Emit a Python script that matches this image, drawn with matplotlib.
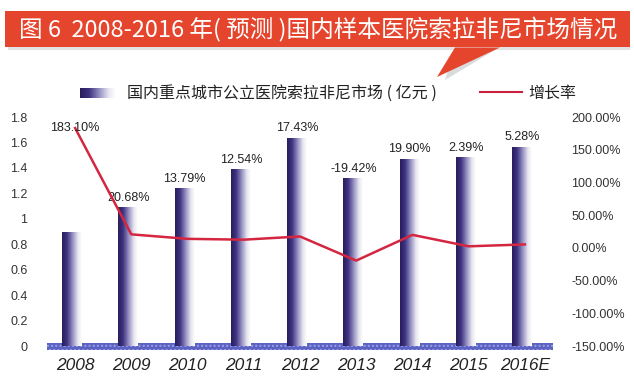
import matplotlib
matplotlib.use("Agg")
import matplotlib.pyplot as plt
import numpy as np
from matplotlib.patches import Rectangle, Polygon
from matplotlib.lines import Line2D
from matplotlib.colors import LinearSegmentedColormap

plt.rcParams['font.family'] = ['Liberation Sans', 'Noto Sans CJK SC', 'DejaVu Sans']

years = ['2008', '2009', '2010', '2011', '2012', '2013', '2014', '2015', '2016E']
market = [0.89, 1.087, 1.236, 1.386, 1.63, 1.315, 1.465, 1.48, 1.56]
growth = [183.10, 20.68, 13.79, 12.54, 17.43, -19.42, 19.90, 2.39, 5.28]
growth_labels = ['183.10%', '20.68%', '13.79%', '12.54%', '17.43%', '-19.42%', '19.90%', '2.39%', '5.28%']
left_ticks = [0, 0.2, 0.4, 0.6, 0.8, 1, 1.2, 1.4, 1.6, 1.8]
left_tick_labels = ['0', '0.2', '0.4', '0.6', '0.8', '1', '1.2', '1.4', '1.6', '1.8']
right_ticks = [-150, -100, -50, 0, 50, 100, 150, 200]
right_tick_labels = ['-150.00%', '-100.00%', '-50.00%', '0.00%', '50.00%', '100.00%', '150.00%', '200.00%']
title = '图 6  2008-2016 年( 预测 )国内样本医院索拉非尼市场情况'
legend_bar = '国内重点城市公立医院索拉非尼市场 ( 亿元 )'
legend_line = '增长率'

W, H = 634, 385
fig = plt.figure(figsize=(W / 100, H / 100), dpi=100)
fig.patch.set_facecolor('white')

bar_cmap = LinearSegmentedColormap.from_list(
    'g', [(0.0, '#2a1d5c'), (0.25, '#3e3380'), (0.5, '#8a84bb'), (0.8, '#e6e5f0'), (1.0, '#ffffff')])
grad = np.linspace(0, 1, 64).reshape(1, -1)

# axes
ax = fig.add_axes([47 / W, 32.6 / H, (553 - 47) / W, (268 - 32.6) / H])
for s in ax.spines.values():
    s.set_visible(False)
ax.set_xticks(range(len(years)))
ax.set_xticklabels(years, fontsize=12.5, style='italic', color='#222222')
ax.tick_params(axis='x', length=0, pad=4)
ax.set_yticks(left_ticks)
ax.set_yticklabels(left_tick_labels, fontsize=9, color='#333333')
ax.tick_params(axis='y', length=0, pad=14)

# baseline band
ax.axhspan(-0.03, 0.02, xmin=0, xmax=1, facecolor='#5b62c2', edgecolor='#9aa0e6',
           hatch='....', linewidth=0, zorder=2)

bw = 0.34
for i, v in enumerate(market):
    x0 = i - 0.06 - bw / 2
    ax.imshow(grad, cmap=bar_cmap, aspect='auto', extent=(x0, x0 + bw, 0, v),
              interpolation='bilinear', zorder=3)
ax.set_xlim(-0.5, 8.5)
ax.set_ylim(-0.05, 1.8)

ax2 = ax.twinx()
ax2.set_ylim(-150 - 0.05 * 350 / 1.8, 200)
for s in ax2.spines.values():
    s.set_visible(False)
ax2.set_yticks(right_ticks)
ax2.set_yticklabels(right_tick_labels, fontsize=9, color='#333333')
ax2.tick_params(axis='y', length=0, pad=13)
ax2.plot(range(len(years)), growth, color='#d42640', lw=1.8, zorder=5)

# data labels
for i, (v, g, lab) in enumerate(zip(market, growth, growth_labels)):
    bar_px = ax.transData.transform((i, v))[1]
    line_px = ax2.transData.transform((i, g))[1]
    if line_px > bar_px + 10:
        ax2.text(i, g, lab, ha='center', va='center', fontsize=9, color='#222222', zorder=6)
    else:
        ax.annotate(lab, (i - 0.05, v), xytext=(0, 3), textcoords='offset points',
                    ha='center', va='bottom', fontsize=9, color='#222222', zorder=6)

# title banner
fig.patches.append(Polygon([[455 / W, 1 - 47 / H], [500 / W, 1 - 47 / H], [445 / W, 1 - 80 / H]],
                           closed=True, transform=fig.transFigure, facecolor='#d9dcdc',
                           edgecolor='none', zorder=1))
fig.patches.append(Rectangle((8 / W, 1 - 50 / H), 622 / W, 38 / H, transform=fig.transFigure,
                             facecolor='#e2e2e2', edgecolor='none', zorder=1))
fig.patches.append(Rectangle((5 / W, 1 - 47 / H), 625 / W, 36 / H, transform=fig.transFigure,
                             facecolor='#e5452d', edgecolor='none', zorder=2))
fig.patches.append(Polygon([[455 / W, 1 - 47.5 / H], [500 / W, 1 - 47.5 / H], [437 / W, 1 - 77 / H]],
                           closed=True, transform=fig.transFigure, facecolor='#e5452d',
                           edgecolor='none', zorder=2))
fig.text(318 / W, 1 - 30 / H, title, ha='center', va='center', color='white', fontsize=17,
         family=['Noto Sans CJK SC', 'DejaVu Sans'], zorder=3)

# legend
lax = fig.add_axes([80 / W, 1 - 98 / H, 36 / W, 10 / H])
lax.imshow(grad, cmap=bar_cmap, aspect='auto', interpolation='bilinear')
lax.axis('off')
fig.text(127 / W, 1 - 93 / H, legend_bar, ha='left', va='center', fontsize=11.5, color='#222222',
         family=['Noto Sans CJK SC', 'DejaVu Sans'])
fig.lines.append(Line2D([480 / W, 522 / W], [1 - 92 / H, 1 - 92 / H], transform=fig.transFigure,
                        color='#c8203f', lw=1.5))
fig.text(528 / W, 1 - 93 / H, legend_line, ha='left', va='center', fontsize=11.5, color='#222222',
         family=['Noto Sans CJK SC', 'DejaVu Sans'])

fig.savefig('out.png', dpi=100)
